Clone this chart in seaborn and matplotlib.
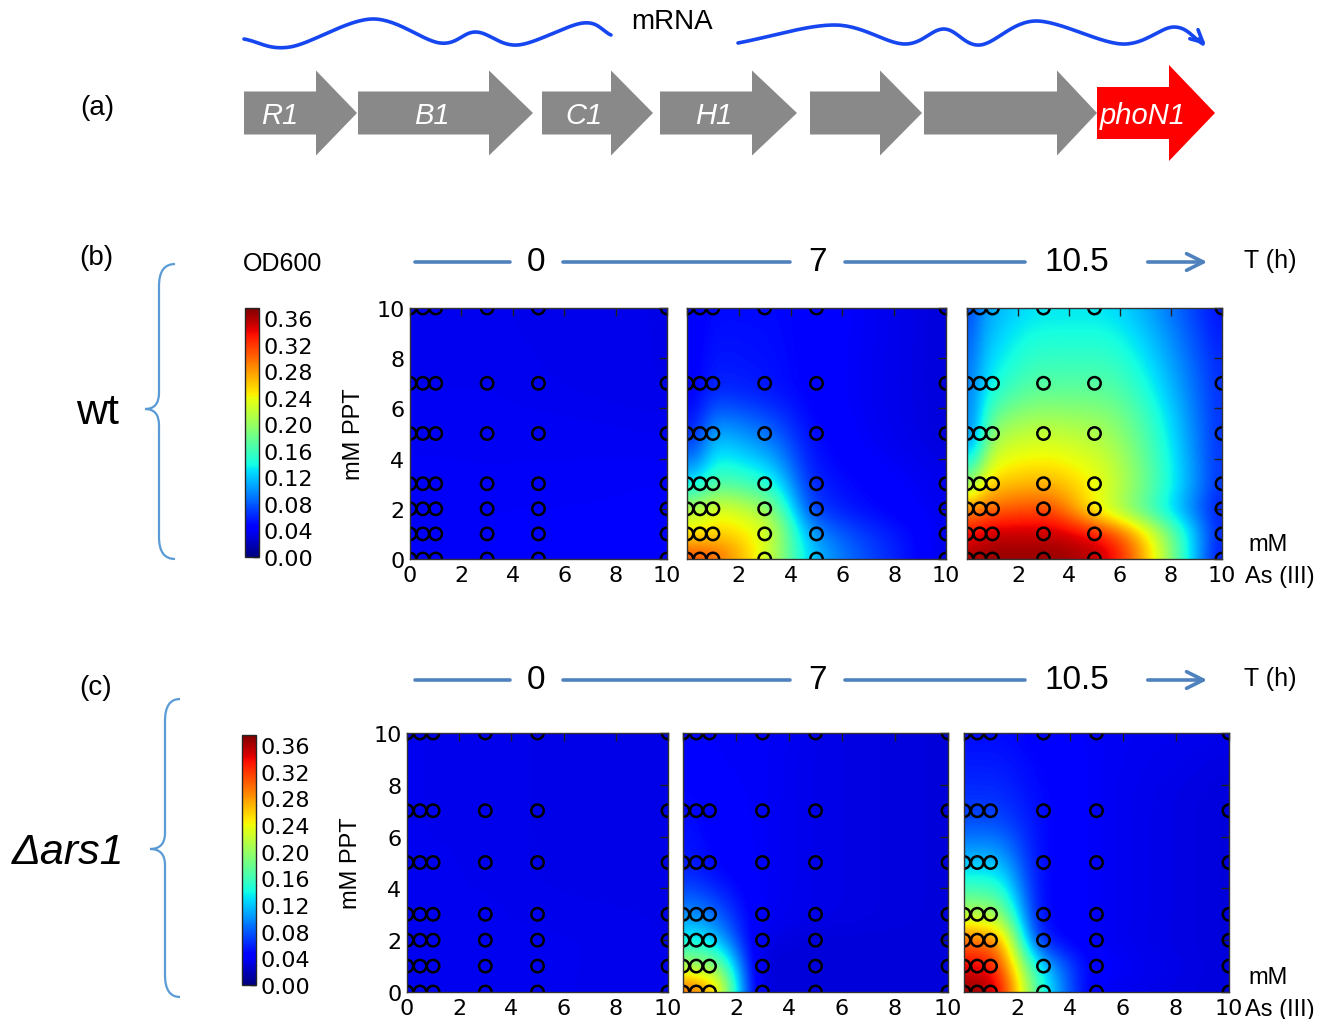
import numpy as np
import matplotlib
matplotlib.use('Agg')
import matplotlib.pyplot as plt
from matplotlib.patches import Polygon, PathPatch
from matplotlib.path import Path
import seaborn as sns

sns.set_style('white')
plt.rcParams['font.family'] = ['DejaVu Sans']
plt.rcParams['text.color'] = 'black'
plt.rcParams['axes.labelcolor'] = 'black'
plt.rcParams['xtick.color'] = 'black'
plt.rcParams['ytick.color'] = 'black'

# measured grid: As(III) (columns) x PPT (rows), OD600 values
as_mM = [0, 0.5, 1, 3, 5, 10]
ppt_mM = [0, 1, 2, 3, 5, 7, 10]
times = ['0', '7', '10.5']
cbar_ticks = [0.00, 0.04, 0.08, 0.12, 0.16, 0.20, 0.24, 0.28, 0.32, 0.36]
vmax = 0.375

# rows: PPT = 0, 1, 2, 3, 5, 7, 10
wt_t0 = [[0.040, 0.040, 0.040, 0.041, 0.042, 0.044],
         [0.040, 0.040, 0.040, 0.041, 0.042, 0.043],
         [0.040, 0.040, 0.040, 0.041, 0.041, 0.042],
         [0.040, 0.040, 0.040, 0.040, 0.040, 0.041],
         [0.039, 0.039, 0.039, 0.039, 0.039, 0.038],
         [0.038, 0.038, 0.038, 0.038, 0.037, 0.035],
         [0.038, 0.038, 0.038, 0.037, 0.036, 0.035]]
wt_t7 = [[0.33, 0.32, 0.31, 0.23, 0.12, 0.03],
         [0.25, 0.25, 0.26, 0.23, 0.10, 0.035],
         [0.21, 0.21, 0.23, 0.20, 0.07, 0.035],
         [0.13, 0.14, 0.17, 0.15, 0.06, 0.035],
         [0.06, 0.07, 0.11, 0.09, 0.05, 0.03],
         [0.04, 0.05, 0.06, 0.055, 0.045, 0.03],
         [0.04, 0.045, 0.05, 0.05, 0.045, 0.03]]
wt_t105 = [[0.36, 0.37, 0.37, 0.37, 0.36, 0.04],
           [0.33, 0.34, 0.35, 0.35, 0.33, 0.05],
           [0.28, 0.29, 0.30, 0.31, 0.245, 0.05],
           [0.16, 0.24, 0.26, 0.27, 0.24, 0.06],
           [0.08, 0.13, 0.20, 0.22, 0.21, 0.06],
           [0.07, 0.12, 0.14, 0.17, 0.17, 0.06],
           [0.05, 0.10, 0.11, 0.13, 0.13, 0.05]]
ko_t0 = [[0.038, 0.038, 0.038, 0.038, 0.037, 0.036],
         [0.038, 0.038, 0.038, 0.038, 0.037, 0.036],
         [0.038, 0.038, 0.038, 0.037, 0.037, 0.035],
         [0.038, 0.038, 0.037, 0.037, 0.036, 0.035],
         [0.037, 0.037, 0.037, 0.036, 0.035, 0.034],
         [0.037, 0.037, 0.036, 0.036, 0.035, 0.034],
         [0.037, 0.037, 0.036, 0.036, 0.035, 0.034]]
ko_t7 = [[0.33, 0.31, 0.29, 0.03, 0.03, 0.03],
         [0.22, 0.20, 0.20, 0.03, 0.03, 0.03],
         [0.14, 0.14, 0.13, 0.035, 0.03, 0.03],
         [0.10, 0.10, 0.09, 0.04, 0.035, 0.03],
         [0.06, 0.055, 0.05, 0.04, 0.035, 0.03],
         [0.05, 0.05, 0.045, 0.04, 0.035, 0.03],
         [0.045, 0.045, 0.04, 0.04, 0.035, 0.03]]
ko_t105 = [[0.37, 0.37, 0.36, 0.15, 0.04, 0.03],
           [0.34, 0.34, 0.33, 0.12, 0.045, 0.03],
           [0.30, 0.29, 0.29, 0.06, 0.04, 0.03],
           [0.22, 0.21, 0.21, 0.05, 0.04, 0.03],
           [0.12, 0.12, 0.12, 0.05, 0.04, 0.03],
           [0.07, 0.07, 0.07, 0.05, 0.04, 0.03],
           [0.05, 0.05, 0.05, 0.045, 0.04, 0.035]]

genes = ['R1', 'B1', 'C1', 'H1', '', '', 'phoN1']

W, H = 1334, 1020
fig = plt.figure(figsize=(W / 100, H / 100), dpi=100)

def box(x0, x1, y0, y1):
    return [x0 / W, 1 - y1 / H, (x1 - x0) / W, (y1 - y0) / H]

def pchip(x, y, xn):
    x = np.asarray(x, float)
    y = np.asarray(y, float)
    h = np.diff(x)
    d = np.diff(y) / h
    m = np.zeros_like(y)
    for i in range(1, len(x) - 1):
        if d[i - 1] * d[i] > 0:
            w1 = 2 * h[i] + h[i - 1]
            w2 = h[i] + 2 * h[i - 1]
            m[i] = (w1 + w2) / (w1 / d[i - 1] + w2 / d[i])
    m[0] = d[0]
    m[-1] = d[-1]
    idx = np.clip(np.searchsorted(x, xn, side='right') - 1, 0, len(x) - 2)
    t = (xn - x[idx]) / h[idx]
    h00 = 2 * t ** 3 - 3 * t ** 2 + 1
    h10 = t ** 3 - 2 * t ** 2 + t
    h01 = -2 * t ** 3 + 3 * t ** 2
    h11 = t ** 3 - t ** 2
    return h00 * y[idx] + h10 * h[idx] * m[idx] + h01 * y[idx + 1] + h11 * h[idx] * m[idx + 1]

gx = np.linspace(0, 10, 301)
sig = 0.35 / (gx[1] - gx[0])
kx = np.arange(-int(3 * sig), int(3 * sig) + 1)
kern = np.exp(-0.5 * (kx / sig) ** 2)
kern /= kern.sum()
npad = len(kx) // 2

def blur(Z):
    Zp = np.pad(Z, npad, mode='reflect')
    Zp = np.apply_along_axis(lambda r: np.convolve(r, kern, mode='valid'), 1, Zp)
    Zp = np.apply_along_axis(lambda c: np.convolve(c, kern, mode='valid'), 0, Zp)
    return Zp

def surface(vals):
    v = np.array(vals, float)
    rx = np.array([pchip(as_mM, r, gx) for r in v])
    Z = np.array([pchip(ppt_mM, rx[:, j], gx) for j in range(len(gx))]).T
    return np.clip(blur(Z), 0, vmax)

# overlay in pixel coords for the schematic and labels
ov = fig.add_axes([0, 0, 1, 1])
ov.set_xlim(0, W)
ov.set_ylim(H, 0)
ov.axis('off')

sans = 'Liberation Sans'

# (a) gene cluster
gene_geom = [(244, 316, 357), (358, 489, 533), (542, 611, 653), (660, 752, 797),
             (810, 880, 922), (924, 1057, 1097), (1097, 1169, 1215)]
for name, (x0, xb, xt) in zip(genes, gene_geom):
    red = name == 'phoN1'
    yc = 114
    bh, hh = (26, 48) if red else (21.5, 42.5)
    pts = [(x0, yc - bh), (xb, yc - bh), (xb, yc - hh), (xt, yc),
           (xb, yc + hh), (xb, yc + bh), (x0, yc + bh)]
    ov.add_patch(Polygon(pts, closed=True, fc='#ff0000' if red else '#898989', ec='none'))
    if name:
        off = 0 if name == 'R1' else (10 if name == 'phoN1' else 8)
        ov.text((x0 + xb) / 2 + off, yc + 2, name, color='white', fontsize=21,
                style='italic', family=sans, ha='center', va='center')

def smooth(pts, n=30):
    p = np.array(pts, float)
    p = np.vstack([2 * p[0] - p[1], p, 2 * p[-1] - p[-2]])
    out = []
    for i in range(1, len(p) - 2):
        t = np.linspace(0, 1, n)[:, None]
        p0, p1, p2, p3 = p[i - 1], p[i], p[i + 1], p[i + 2]
        out.append(0.5 * ((2 * p1) + (-p0 + p2) * t + (2 * p0 - 5 * p1 + 4 * p2 - p3) * t ** 2
                          + (-p0 + 3 * p1 - 3 * p2 + p3) * t ** 3))
    return np.vstack(out)

wave_blue = '#1646f0'
w1 = smooth([(244, 40), (290, 48), (372, 20), (440, 44), (476, 33), (518, 46), (583, 24), (611, 36)])
w2 = smooth([(738, 44), (835, 26), (904, 45), (944, 30), (980, 46), (1036, 22), (1122, 45), (1174, 28), (1203, 45)])
ov.plot(w1[:, 0], w1[:, 1], color=wave_blue, lw=2.6, solid_capstyle='round')
ov.plot(w2[:, 0], w2[:, 1], color=wave_blue, lw=2.6, solid_capstyle='round')
ov.annotate('', xy=(1208, 48), xytext=(1197, 38),
            arrowprops=dict(arrowstyle='->', color=wave_blue, lw=2.6, mutation_scale=22))
ov.text(672, 22, 'mRNA', fontsize=20, family=sans, ha='center', va='center')
ov.text(97, 108, '(a)', fontsize=20, family=sans, ha='center', va='center')

# braces
def brace(xe, xm, xt, yt, ym, yb):
    verts = [(xe, yt), (xm, yt), (xm, yt + 22), (xm, ym - 16), (xm, ym), (xt, ym),
             (xm, ym), (xm, ym + 16), (xm, yb - 22), (xm, yb), (xe, yb)]
    codes = [Path.MOVETO, Path.CURVE3, Path.CURVE3, Path.LINETO, Path.CURVE3, Path.CURVE3,
             Path.CURVE3, Path.CURVE3, Path.LINETO, Path.CURVE3, Path.CURVE3]
    ov.add_patch(PathPatch(Path(verts, codes), fc='none', ec='#5b9bd5', lw=1.6))

line_blue = '#4f81bd'
def timeline(y):
    for xa, xb in [(415, 510), (563, 790), (845, 1025)]:
        ov.plot([xa, xb], [y, y], color=line_blue, lw=2.6)
    ov.annotate('', xy=(1210, y), xytext=(1145, y),
                arrowprops=dict(arrowstyle='->', color=line_blue, lw=2.6, mutation_scale=30))
    for xt, t in zip([536, 817, 1077], times):
        ov.text(xt, y, t, fontsize=24, family=sans, ha='center', va='center')
    ov.text(1270, y - 2, 'T (h)', fontsize=18, family=sans, ha='center', va='center')

rows = [
    dict(data=[wt_t0, wt_t7, wt_t105], y=(309, 560), tl=263, tag='(b)', tagy=258,
         label='wt', ly=413, lx=98, st='normal', br=(175, 159, 145, 265, 410, 560),
         panels=[(410, 667), (687, 946), (967, 1222)], cb=(245, 259, 309, 558), od=True),
    dict(data=[ko_t0, ko_t7, ko_t105], y=(734, 993), tl=681, tag='(c)', tagy=688,
         label='\u0394ars1', ly=853, lx=68, st='italic', br=(180, 165, 150, 700, 850, 998),
         panels=[(407, 668), (683, 948), (964, 1229)], cb=(242, 256, 736, 986), od=False),
]

X, Y = np.meshgrid(as_mM, ppt_mM)
px = X.ravel()
py = Y.ravel()

for row in rows:
    ov.text(96, row['tagy'], row['tag'], fontsize=20, family=sans, ha='center', va='center')
    ov.text(row['lx'], row['ly'], row['label'], fontsize=31, family=sans, style=row['st'],
            ha='center', va='center')
    brace(*row['br'])
    timeline(row['tl'])
    y0, y1 = row['y']
    for k, ((x0, x1), vals) in enumerate(zip(row['panels'], row['data'])):
        ax = fig.add_axes(box(x0, x1, y0, y1))
        Z = surface(vals)
        im = ax.imshow(Z, extent=[0, 10, 0, 10], origin='lower', cmap='jet',
                       vmin=0, vmax=vmax, aspect='auto', interpolation='bilinear')
        sns.scatterplot(x=px, y=py, ax=ax, s=80, marker='o', facecolor='none',
                        edgecolor='black', linewidth=1.8, legend=False)
        ax.collections[-1].set_facecolor('none')
        ax.set_xlim(0, 10)
        ax.set_ylim(0, 10)
        ax.set_xticks(range(0, 11, 2))
        ax.set_yticks(range(0, 11, 2))
        ax.tick_params(direction='in', top=True, right=True, length=6, width=1,
                       labelsize=16, pad=4, colors='#222222', labelcolor='black')
        if k > 0:
            ax.set_xticklabels([''] + [str(v) for v in range(2, 11, 2)])
            ax.set_yticklabels([])
        else:
            ax.set_ylabel('mM PPT', fontsize=17, family=sans, labelpad=8)
        for s in ax.spines.values():
            s.set_color('#333333')
            s.set_linewidth(1)
    ov.text(1248, y1 - 15, 'mM', fontsize=17, family=sans, ha='left', va='center')
    ov.text(1245, y1 + 17, 'As (III)', fontsize=17, family=sans, ha='left', va='center')

    cx0, cx1, cy0, cy1 = row['cb']
    cax = fig.add_axes(box(cx0, cx1, cy0, cy1))
    cb = fig.colorbar(im, cax=cax, ticks=cbar_ticks)
    cb.ax.set_yticklabels(['%.2f' % t for t in cbar_ticks])
    cax.tick_params(direction='in', length=4, width=1, labelsize=16, pad=3)
    cb.outline.set_linewidth(1)
    if row['od']:
        ov.text(283, 264, 'OD600', fontsize=18, family=sans, ha='center', va='center')

fig.savefig('out.png', dpi=100)
